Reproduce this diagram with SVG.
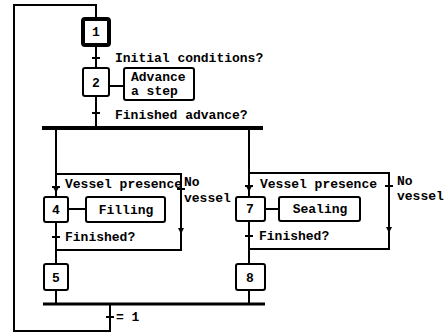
<svg xmlns="http://www.w3.org/2000/svg" width="444" height="333" viewBox="0 0 444 333">
<style>
.ln{fill:none;stroke:#000;stroke-width:2;stroke-linejoin:miter}
.bx{fill:#fff;stroke:#000;stroke-width:2}
.bar{stroke:#000;stroke-width:4;fill:none}
.tk{stroke:#000;stroke-width:2}
text{font-family:"Liberation Mono","DejaVu Sans Mono",monospace;font-weight:bold;font-size:13px;fill:#000}
.c{text-anchor:middle}
</style>
<defs>
<marker id="ah" viewBox="0 0 6 6" refX="6" refY="3" markerWidth="6" markerHeight="6" markerUnits="userSpaceOnUse" orient="auto">
<path d="M0,0 L6,3 L0,6 Z" fill="#000"/>
</marker>
</defs>
<rect width="444" height="333" fill="#fff"/>
<g id="connectors">
<path class="ln" d="M96,19 V5 H14 V331 H110 V304"/>
<path class="ln" d="M96,45 V68"/>
<path class="ln" d="M96,96 V128"/>
<path class="ln" d="M109,86 H124"/>
<path class="bar" d="M42,128 H263"/>
<path class="ln" d="M56,128 V197"/>
<path class="ln" d="M56,174 H181 V250 H56"/>
<path class="ln" d="M68,209 H86"/>
<path class="ln" d="M56,222 V264"/>
<path class="ln" d="M56,290 V304"/>
<path class="ln" d="M249,128 V197"/>
<path class="ln" d="M249,173 H389 V249 H249"/>
<path class="ln" d="M265,209 H279"/>
<path class="ln" d="M249,221 V264"/>
<path class="ln" d="M249,290 V304"/>
<path class="bar" d="M43,304 H265" style="stroke-width:3"/>
<path class="tk" d="M92,58 H100"/>
<path class="tk" d="M92,113 H100"/>
<path class="tk" d="M52,187 H60"/>
<path class="tk" d="M52,237 H60"/>
<path class="tk" d="M177,189 H185"/>
<path class="tk" d="M245,186 H253"/>
<path class="tk" d="M245,236 H253"/>
<path class="tk" d="M385,186 H393"/>
<path class="tk" d="M106,317 H114"/>
<path class="ln" d="M181,226 V234" marker-end="url(#ah)"/>
<path class="ln" d="M389,225 V233" marker-end="url(#ah)"/>
<path class="ln" d="M56,186 V193" marker-end="url(#ah)"/>
<path class="ln" d="M249,185 V192" marker-end="url(#ah)"/>
</g>
<g id="step1">
<rect x="83" y="19" width="26" height="26" rx="2" fill="#fff" stroke="#000" stroke-width="4"/>
<text class="c" x="96" y="36">1</text>
</g>
<g id="t1"><text x="115" y="62">Initial conditions?</text></g>
<g id="step2">
<rect class="bx" x="83" y="68" width="26" height="28" rx="2"/>
<text class="c" x="96" y="87">2</text>
</g>
<g id="action2">
<rect class="bx" x="124" y="68" width="70" height="32" rx="2"/>
<text x="131" y="81">Advance</text>
<text x="131" y="95">a step</text>
</g>
<g id="t2"><text x="115" y="119">Finished advance?</text></g>
<g id="t4a"><text x="65" y="188">Vessel presence</text></g>
<g id="t4b"><text x="184" y="186">No</text><text x="184" y="202">vessel</text></g>
<g id="step4">
<rect class="bx" x="44" y="197" width="24" height="25" rx="2"/>
<text class="c" x="56" y="214">4</text>
</g>
<g id="action4">
<rect class="bx" x="86" y="197" width="79" height="25" rx="2"/>
<text class="c" x="126" y="214">Filling</text>
</g>
<g id="t4c"><text x="65" y="241">Finished?</text></g>
<g id="step5">
<rect class="bx" x="44" y="264" width="24" height="26" rx="2"/>
<text class="c" x="56" y="282">5</text>
</g>
<g id="t7a"><text x="260" y="188">Vessel presence</text></g>
<g id="t7b"><text x="397" y="185">No</text><text x="397" y="200">vessel</text></g>
<g id="step7">
<rect class="bx" x="236" y="197" width="29" height="24" rx="2"/>
<text class="c" x="250" y="213">7</text>
</g>
<g id="action7">
<rect class="bx" x="279" y="197" width="81" height="24" rx="2"/>
<text class="c" x="320" y="213">Sealing</text>
</g>
<g id="t7c"><text x="259" y="240">Finished?</text></g>
<g id="step8">
<rect class="bx" x="236" y="264" width="29" height="26" rx="2"/>
<text class="c" x="250" y="282">8</text>
</g>
<g id="t9"><text x="116" y="321">= 1</text></g>
</svg>
